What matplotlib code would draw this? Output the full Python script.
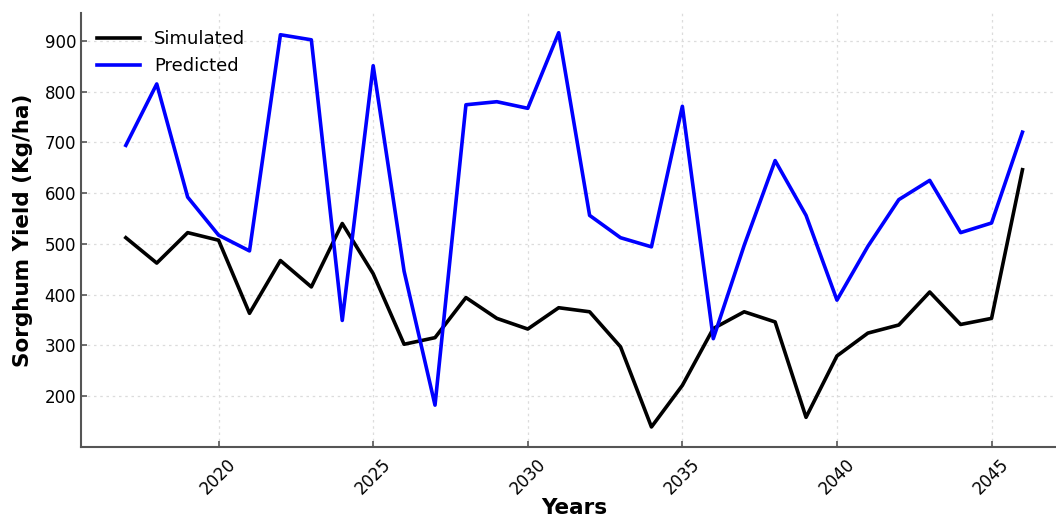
import numpy as np
import matplotlib.pyplot as plt

# yearly sorghum yield, simulated vs predicted (Kg/ha)
years = np.arange(2017, 2047)

simulated = [512, 462, 522, 507, 363, 467, 415, 540, 441, 302,
             315, 394, 353, 332, 374, 366, 297, 139, 221, 333,
             366, 346, 158, 279, 324, 340, 405, 341, 353, 646]

predicted = [694, 815, 592, 517, 486, 912, 902, 349, 851, 446,
             182, 774, 780, 767, 916, 556, 512, 494, 771, 313,
             497, 664, 556, 389, 495, 587, 625, 522, 541, 720]

plt.rcParams['font.family'] = 'DejaVu Sans'

fig = plt.figure(figsize=(10.56, 5.2), dpi=100)
ax = fig.add_axes([0.0767, 0.141, 0.934, 0.834])

ax.plot(years, simulated, color='black', lw=2.6, label='Simulated')
ax.plot(years, predicted, color='blue', lw=2.6, label='Predicted')

ax.set_xlabel('Years', fontsize=15.5, fontweight='bold', labelpad=0)
ax.set_ylabel('Sorghum Yield (Kg/ha)', fontsize=15.5, fontweight='bold', labelpad=8)

ax.grid(True, linestyle=(0, (2, 3)), color='#dcdcdc', linewidth=0.9)
ax.tick_params(axis='both', direction='in', length=4, width=1.2,
               color='#555555', labelsize=12)
plt.setp(ax.get_xticklabels(), rotation=45, ha='center', va='top')
ax.tick_params(axis='x', pad=6)

for side in ['top', 'right']:
    ax.spines[side].set_visible(False)
for side in ['left', 'bottom']:
    ax.spines[side].set_color('#555555')
    ax.spines[side].set_linewidth(1.5)

ax.legend(loc='upper left', frameon=False, fontsize=13,
          handlelength=2.4, borderaxespad=0.3, bbox_to_anchor=(0.003, 0.99))

fig.savefig('out.png', dpi=100)
